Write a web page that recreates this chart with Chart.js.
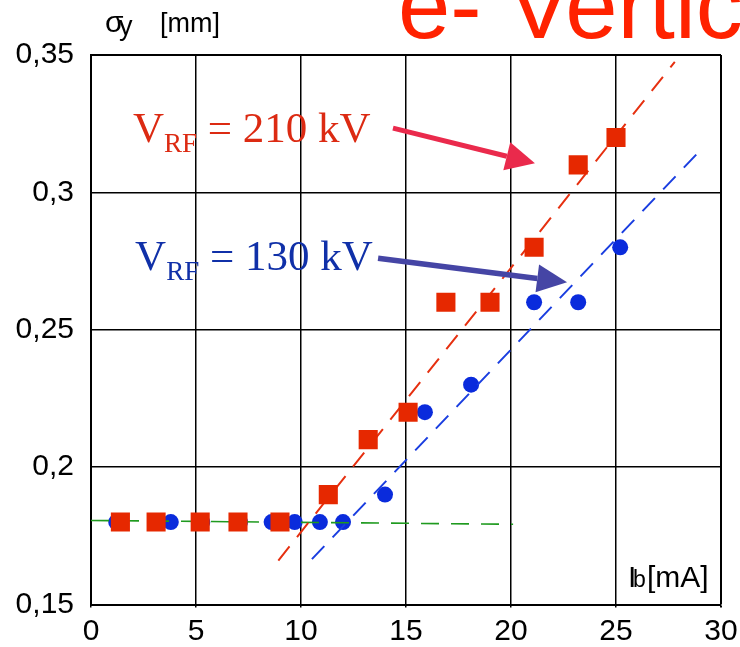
<!DOCTYPE html>
<html>
<head>
<meta charset="utf-8">
<script src="https://cdn.jsdelivr.net/npm/chart.js@4.4.1/dist/chart.umd.min.js"></script>
<style>
    html, body { margin: 0; padding: 0; background: #fff; }
    #wrap { width: 740px; height: 647px; }
</style>
</head>
<body>
<div id="wrap"><canvas id="grafico"></canvas></div>
<script>
// ticks
const xTicks = [0, 5, 10, 15, 20, 25, 30];
const yTicks = [0.15, 0.2, 0.25, 0.3, 0.35];

// V_RF = 210 kV (quadrados vermelhos)
const rf210Ib = [1.4, 3.1, 5.2, 7.0, 9.0, 11.3, 13.2, 15.1, 16.9, 19.0, 21.1, 23.2, 25.0];
const rf210Sigma = [0.18, 0.18, 0.18, 0.18, 0.18, 0.19, 0.21, 0.22, 0.26, 0.26, 0.28, 0.31, 0.32];

// V_RF = 130 kV (circulos azuis)
const rf130Ib = [1.2, 3.8, 5.3, 7.1, 8.6, 9.7, 10.9, 12.0, 14.0, 15.9, 18.1, 21.1, 23.2, 25.2];
const rf130Sigma = [0.18, 0.18, 0.18, 0.18, 0.18, 0.18, 0.18, 0.18, 0.19, 0.22, 0.23, 0.26, 0.26, 0.28];

// retas tracejadas
const fit210Ib = [8.92, 27.8];
const fit210Sigma = [0.166, 0.3475];
const fit130Ib = [10.52, 29.1];
const fit130Sigma = [0.1665, 0.316];
const flatIb = [0, 20.1];
const flatSigma = [0.1806, 0.1792];

const pts = (xs, ys) => xs.map((x, i) => ({ x: x, y: ys[i] }));

const SANS = '"Liberation Sans", Arial, sans-serif';
const SERIF = '"Liberation Serif", "Times New Roman", serif';

function seta(ctx, x1, y1, x2, y2, cor, larg, compCabeca, largCabeca) {
    const ang = Math.atan2(y2 - y1, x2 - x1);
    const bx = x2 - Math.cos(ang) * compCabeca;
    const by = y2 - Math.sin(ang) * compCabeca;
    ctx.strokeStyle = cor;
    ctx.fillStyle = cor;
    ctx.lineWidth = larg;
    ctx.beginPath();
    ctx.moveTo(x1, y1);
    ctx.lineTo(bx, by);
    ctx.stroke();
    const nx = -Math.sin(ang) * largCabeca / 2;
    const ny = Math.cos(ang) * largCabeca / 2;
    ctx.beginPath();
    ctx.moveTo(x2, y2);
    ctx.lineTo(bx + nx, by + ny);
    ctx.lineTo(bx - nx, by - ny);
    ctx.closePath();
    ctx.fill();
}

function rotuloVrf(ctx, x0, base, cor, valor) {
    ctx.fillStyle = cor;
    ctx.font = '43px ' + SERIF;
    ctx.fillText('V', x0, base);
    let x = x0 + ctx.measureText('V').width;
    ctx.font = '27px ' + SERIF;
    ctx.fillText('RF', x, base + 10);
    x += ctx.measureText('RF').width;
    ctx.font = '43px ' + SERIF;
    ctx.fillText(' = ' + valor + ' kV', x, base);
}

const anotacoes = {
    id: 'anotacoes',
    afterDraw(chart) {
        const ctx = chart.ctx;
        const sx = chart.scales.x;
        const sy = chart.scales.y;
        ctx.save();
        ctx.textBaseline = 'alphabetic';
        ctx.textAlign = 'left';

        // titulo cortado
        ctx.fillStyle = '#ff2200';
        ctx.font = '94px ' + SANS;
        ctx.fillText('e- Vertical', 398, 38);

        // titulo do eixo y
        ctx.fillStyle = '#000';
        ctx.font = '30px ' + SANS;
        ctx.fillText('\u03c3', 105, 32);
        ctx.font = '27px ' + SANS;
        ctx.fillText('y', 119, 35);
        ctx.fillText('[mm]', 160, 32);

        // titulo do eixo x
        ctx.font = '30px ' + SANS;
        ctx.fillText('I', 628, 587);
        ctx.font = '23px ' + SANS;
        ctx.fillText('b', 633, 587);
        ctx.font = '30px ' + SANS;
        ctx.fillText('[mA]', 647, 587);

        // rotulos V_RF
        rotuloVrf(ctx, sx.getPixelForValue(2.0), sy.getPixelForValue(0.3183), '#dc2a12', '210');
        rotuloVrf(ctx, sx.getPixelForValue(2.1), sy.getPixelForValue(0.2716), '#1030a8', '130');

        // setas
        seta(ctx, sx.getPixelForValue(14.38), sy.getPixelForValue(0.3234),
            sx.getPixelForValue(21.14), sy.getPixelForValue(0.3106), '#ea2a4c', 5, 29, 29);
        seta(ctx, sx.getPixelForValue(13.67), sy.getPixelForValue(0.276),
            sx.getPixelForValue(22.67), sy.getPixelForValue(0.2673), '#4545a5', 5.5, 30, 28);
        ctx.restore();
    }
};

const ctxGrafico = document.getElementById('grafico').getContext('2d');
new Chart(ctxGrafico, {
    type: 'scatter',
    data: {
        datasets: [
            {
                label: 'VRF = 210 kV',
                data: pts(rf210Ib, rf210Sigma),
                pointStyle: 'rect',
                pointRadius: 13.5,
                backgroundColor: '#e62800',
                borderWidth: 0,
                order: 0
            },
            {
                label: 'fit 210',
                data: pts(fit210Ib, fit210Sigma),
                showLine: true,
                pointRadius: 0,
                borderColor: '#e63010',
                borderWidth: 2,
                borderDash: [18, 12],
                order: 1
            },
            {
                label: 'flat',
                data: pts(flatIb, flatSigma),
                showLine: true,
                pointRadius: 0,
                borderColor: '#1f9a1f',
                borderWidth: 1.6,
                borderDash: [18, 12],
                order: 2
            },
            {
                label: 'fit 130',
                data: pts(fit130Ib, fit130Sigma),
                showLine: true,
                pointRadius: 0,
                borderColor: '#1a3ee0',
                borderWidth: 2,
                borderDash: [18, 12],
                order: 3
            },
            {
                label: 'VRF = 130 kV',
                data: pts(rf130Ib, rf130Sigma),
                pointStyle: 'circle',
                pointRadius: 8,
                backgroundColor: '#0a2bdc',
                borderWidth: 0,
                order: 4
            }
        ]
    },
    options: {
        responsive: true,
        maintainAspectRatio: false,
        animation: false,
        events: [],
        layout: { padding: { top: 55, right: 19, left: 0, bottom: 0 } },
        plugins: {
            legend: { display: false },
            tooltip: { enabled: false }
        },
        scales: {
            x: {
                type: 'linear',
                min: 0,
                max: 30,
                afterBuildTicks: s => { s.ticks = xTicks.map(v => ({ value: v })); },
                afterFit: s => { s.height = 42.5; s.paddingLeft = 0; s.paddingRight = 0; },
                ticks: {
                    color: '#000',
                    padding: 6,
                    maxRotation: 0,
                    font: { family: SANS, size: 30 }
                },
                grid: {
                    color: '#000',
                    lineWidth: c => (c.tick && c.tick.value === 30 ? 2 : 1.5),
                    drawTicks: true,
                    tickLength: 3
                },
                border: { color: '#000', width: 2 }
            },
            y: {
                type: 'linear',
                min: 0.15,
                max: 0.35,
                afterBuildTicks: s => { s.ticks = yTicks.map(v => ({ value: v })); },
                afterFit: s => { s.width = 91; s.paddingTop = 0; s.paddingBottom = 0; },
                ticks: {
                    color: '#000',
                    padding: 17,
                    font: { family: SANS, size: 30 },
                    callback: v => String(Math.round(v * 100) / 100).replace('.', ',')
                },
                grid: {
                    color: '#000',
                    lineWidth: c => (c.tick && c.tick.value === 0.35 ? 2 : 1.5),
                    drawTicks: false
                },
                border: { color: '#000', width: 2 }
            }
        }
    },
    plugins: [anotacoes]
});
</script>
</body>
</html>
